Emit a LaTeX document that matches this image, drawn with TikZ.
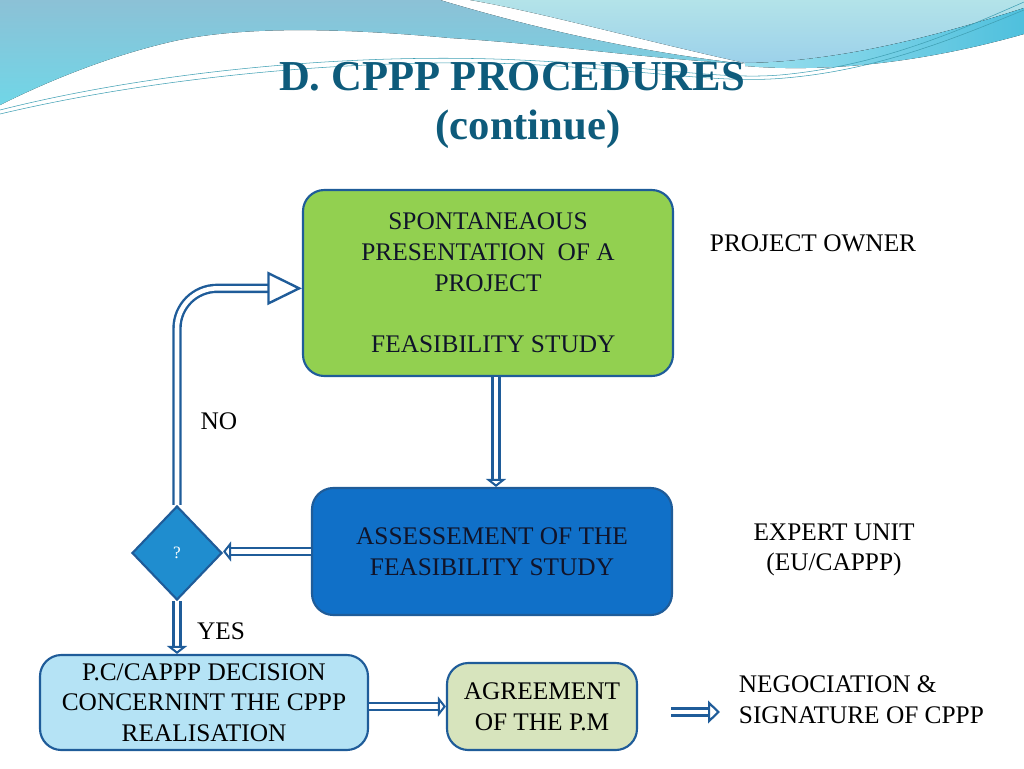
\documentclass[tikz,border=0pt]{standalone}
\usepackage{fontspec}
\setmainfont{Liberation Serif}
\usetikzlibrary{arrows.meta,shapes.geometric,positioning}

\definecolor{boxline}{HTML}{1F5C99}
\definecolor{ownergreen}{HTML}{92D050}
\definecolor{expertblue}{HTML}{1070C8}
\definecolor{askblue}{HTML}{1F8DCF}
\definecolor{decidecyan}{HTML}{B5E3F5}
\definecolor{agreeolive}{HTML}{D7E4BD}
\definecolor{titleblue}{HTML}{0E5B7B}
\definecolor{wavetop}{HTML}{8CC1D6}
\definecolor{wavelow}{HTML}{70D6E7}
\definecolor{skytop}{HTML}{B3E3E9}
\definecolor{skylow}{HTML}{9CD1EA}
\definecolor{bandlight}{HTML}{9ADFEE}
\definecolor{banddark}{HTML}{4FC0DD}
\definecolor{thread}{HTML}{3F9FB3}
\definecolor{inktext}{HTML}{10142A}

\tikzset{
	stepbox/.style={draw=boxline, line width=1.6pt, rounded corners=16pt, align=center,
		inner sep=0pt, text=inktext, font=\fontsize{19}{23}\selectfont},
	lbl/.style={align=center, inner sep=2pt, font=\fontsize{19}{23}\selectfont},
	dbl/.style={draw=boxline, line width=1.8pt, double=white, double distance=3.4pt},
	smallhead/.style={-{Triangle[open, fill=white, length=6pt, width=15pt, line width'=1.6pt]}},
	midhead/.style={-{Triangle[open, fill=white, length=9pt, width=17pt, line width'=1.6pt]}},
	bighead/.style={-{Triangle[open, fill=white, length=26pt, width=25pt, line width'=1.8pt]}},
}

\begin{document}
\begin{tikzpicture}[x=0.75pt,y=-0.75pt]
	\useasboundingbox (0,0) rectangle (1024,768);
	% top wave
	\fill[top color=skytop, bottom color=skylow] (470,0) -- (1024,0) -- (1024,8)
		.. controls (940,35) and (840,62) .. (745,63)
		.. controls (640,40) and (540,12) .. (470,0) -- cycle;
	\fill[top color=wavetop, bottom color=wavelow] (0,0) -- (440,0)
		.. controls (540,30) and (640,52) .. (745,64)
		.. controls (640,58) and (560,45) .. (450,38)
		.. controls (320,26) and (230,28) .. (170,42)
		.. controls (110,56) and (50,80) .. (0,105) -- cycle;
	\fill[left color=bandlight, right color=banddark] (745,63)
		.. controls (840,62) and (940,35) .. (1024,8) -- (1024,34)
		.. controls (940,58) and (840,74) .. (745,66) -- cycle;
	\draw[thread, line width=0.4pt] (0,110) .. controls (150,72) and (350,52) .. (520,60)
		.. controls (650,66) and (720,80) .. (780,75) .. controls (880,66) and (960,30) .. (1024,2);
	\draw[thread, line width=0.4pt] (0,114) .. controls (160,76) and (360,58) .. (520,64)
		.. controls (650,70) and (720,84) .. (785,78) .. controls (880,70) and (960,36) .. (1024,10);

	% title
	\node[font=\fontsize{32}{38}\selectfont\bfseries, text=titleblue, anchor=base] (title) at (512,90) {D. CPPP PROCEDURES};
	\node[font=\fontsize{32}{38}\selectfont\bfseries, text=titleblue, anchor=base] (subtitle) at (528,139) {(continue)};

	% boxes
	\node[stepbox, fill=ownergreen, minimum width=277.5pt, minimum height=139.5pt] (green) at (488,283)
		{SPONTANEAOUS\\PRESENTATION\ \ OF A\\PROJECT\\[23pt]\hspace*{8pt}FEASIBILITY STUDY};
	\node[stepbox, fill=expertblue, minimum width=270pt, minimum height=95.25pt] (blue) at (492,551.5)
		{ASSESSEMENT OF THE\\FEASIBILITY STUDY};
	\node[diamond, draw=boxline, line width=1.6pt, fill=askblue, minimum width=67.5pt, minimum height=70.5pt,
		inner sep=0pt, text=white, font=\fontsize{13}{15}\selectfont] (q) at (177,553) {?};
	\node[stepbox, fill=decidecyan, text=black, minimum width=246pt, minimum height=71.25pt] (decide) at (204,702.5)
		{P.C/CAPPP DECISION\\CONCERNINT THE CPPP\\REALISATION};
	\node[stepbox, fill=agreeolive, text=black, minimum width=142.5pt, minimum height=65.25pt] (agree) at (542,706.5)
		{AGREEMENT\\OF THE P.M};

	% side labels
	\node[lbl, anchor=west] (owner) at (707,243) {PROJECT OWNER};
	\node[lbl] (expert) at (834,550) {EXPERT UNIT\\(EU/CAPPP)};
	\node[lbl, anchor=west, align=left] (sign) at (736,700) {NEGOCIATION \&\\SIGNATURE OF CPPP};
	\node[lbl] (no) at (219,421) {NO};
	\node[lbl] (yes) at (221,631) {YES};
	\coordinate (sgnL) at (671,712);
	\coordinate (sgnR) at (720,712);

	% connectors
	\draw[dbl, smallhead] ([xshift=6pt]green.south) -- ([xshift=6pt]green.south |- blue.north);
	\draw[dbl, smallhead] (blue.west) -- (blue.west -| q.east);
	\draw[dbl, bighead, rounded corners=30pt] (q.north) |- ([yshift=-4pt]green.west);
	\draw[dbl, smallhead] (q.south) -- (q.south |- decide.north);
	\draw[dbl, smallhead] (decide.east |- agree.west) -- (agree.west);
	\draw[dbl, midhead] (sgnL) -- (sgnR);
\end{tikzpicture}
\end{document}
